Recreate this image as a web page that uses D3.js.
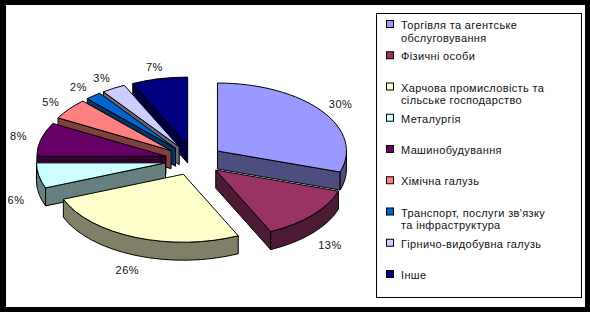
<!DOCTYPE html>
<html>
<head>
<meta charset="utf-8">
<script src="https://cdn.jsdelivr.net/npm/d3@7"></script>
<style>
  html, body { margin: 0; padding: 0; background: #000; }
  svg { display: block; }
  text { font-family: "Liberation Sans", Arial, sans-serif; font-size: 11px; fill: #111; }
</style>
</head>
<body>
<div id="chart"></div>
<script>
// Chart data
var categories = [
  ["Торгівля та агентське", "обслуговування"],
  ["Фізичні особи"],
  ["Харчова промисловість та", "сільське господарство"],
  ["Металургія"],
  ["Машинобудування"],
  ["Хімічна галузь"],
  ["Транспорт, послуги зв'язку", "та інфраструктура"],
  ["Гірничо-видобувна галузь"],
  ["Інше"]
];
var values = [30, 13, 26, 6, 8, 5, 2, 3, 7];
var colors = ["#9999ff", "#993366", "#ffffcc", "#ccffff", "#660066", "#ff8080", "#0066cc", "#ccccff", "#000080"];

// Layout
var W = 590, H = 312;
var cx = 194, cy = 160;   // pie centre
var rx = 129, ry = 68;    // ellipse radii of the top face
var depth = 18;           // thickness of the pie
var explode = 29;         // slice offset

var svg = d3.select("#chart").append("svg")
  .attr("width", W)
  .attr("height", H);

// white chart area inside the black frame
svg.append("rect")
  .attr("x", 6).attr("y", 5)
  .attr("width", 579).attr("height", 302)
  .attr("fill", "#fff");

var color = d3.scaleOrdinal().domain(d3.range(values.length)).range(colors);

var pie = d3.pie().sort(null).value(function(d) { return d; });
var slices = pie(values).map(function(s, i) {
  var m = (s.startAngle + s.endAngle) / 2;
  s.i = i;
  s.mid = m;
  s.ax = cx + explode * Math.sin(m);
  s.ay = cy - explode * (ry / rx) * Math.cos(m);
  return s;
});

function pt(s, a, dy) {
  return [s.ax + rx * Math.sin(a), s.ay - ry * Math.cos(a) + (dy || 0)];
}

function topPath(s) {
  var p0 = pt(s, s.startAngle), p1 = pt(s, s.endAngle);
  var large = (s.endAngle - s.startAngle) > Math.PI ? 1 : 0;
  return "M" + s.ax + "," + s.ay + "L" + p0 + "A" + rx + "," + ry + " 0 " + large + " 1 " + p1 + "Z";
}

function wallPath(s) {
  var a0 = Math.max(s.startAngle, Math.PI / 2), a1 = Math.min(s.endAngle, 3 * Math.PI / 2);
  if (a1 <= a0) return null;
  var p0 = pt(s, a0), p1 = pt(s, a1), q1 = pt(s, a1, depth), q0 = pt(s, a0, depth);
  return "M" + p0 + "A" + rx + "," + ry + " 0 0 1 " + p1 + "L" + q1 +
    "A" + rx + "," + ry + " 0 0 0 " + q0 + "Z";
}

function cutPath(s, a) {
  var p = pt(s, a), q = pt(s, a, depth);
  return "M" + s.ax + "," + s.ay + "L" + p + "L" + q + "L" + s.ax + "," + (s.ay + depth) + "Z";
}

function dark(c) {
  var r = d3.rgb(c);
  return d3.rgb(r.r * 0.5, r.g * 0.5, r.b * 0.5).toString();
}

// paint back to front
var order = slices.slice().sort(function(a, b) { return -Math.cos(a.mid) + Math.cos(b.mid); });

var g = svg.append("g").attr("stroke", "#000").attr("stroke-width", 1).attr("stroke-linejoin", "round");

order.forEach(function(s) {
  var sg = g.append("g");
  var side = dark(color(s.i));
  if (Math.sin(s.startAngle) < -1e-6)
    sg.append("path").attr("d", cutPath(s, s.startAngle)).attr("fill", side);
  if (Math.sin(s.endAngle) > 1e-6)
    sg.append("path").attr("d", cutPath(s, s.endAngle)).attr("fill", side);
  var w = wallPath(s);
  if (w) sg.append("path").attr("d", w).attr("fill", side);
  sg.append("path").attr("d", topPath(s)).attr("fill", color(s.i));
});

// percentage labels
var total = d3.sum(values);
svg.append("g").selectAll("text")
  .data(slices)
  .enter()
  .append("text")
  .attr("text-anchor", "middle")
  .attr("dominant-baseline", "central")
  .attr("x", function(d) { return d.ax + 1.18 * rx * Math.sin(d.mid); })
  .attr("y", function(d) {
    var y = d.ay - 1.17 * ry * Math.cos(d.mid);
    return -Math.cos(d.mid) > 0 ? y + depth + 4 : y;
  })
  .style("letter-spacing", "0.5px")
  .text(function(d) { return Math.round(d.value / total * 100) + "%"; });

// legend
var legend = svg.append("g");
legend.append("rect")
  .attr("x", 376.5).attr("y", 13.5)
  .attr("width", 205).attr("height", 284)
  .attr("fill", "#fff").attr("stroke", "#000");

var rowY = d3.scaleLinear().domain([0, categories.length - 1]).range([25, 275]);

var item = legend.selectAll("g.item")
  .data(categories)
  .enter()
  .append("g")
  .attr("class", "item")
  .attr("transform", function(d, i) { return "translate(0," + rowY(i) + ")"; });

item.append("rect")
  .attr("x", 386.5).attr("y", -4.5)
  .attr("width", 7).attr("height", 7)
  .attr("fill", function(d, i) { return color(i); })
  .attr("stroke", "#000");

item.selectAll("text")
  .data(function(d) { return d; })
  .enter()
  .append("text")
  .attr("x", 401)
  .attr("y", function(d, j) { return j * 12.5; })
  .attr("dominant-baseline", "central")
  .style("letter-spacing", "0.35px")
  .text(function(d) { return d; });
</script>
</body>
</html>
